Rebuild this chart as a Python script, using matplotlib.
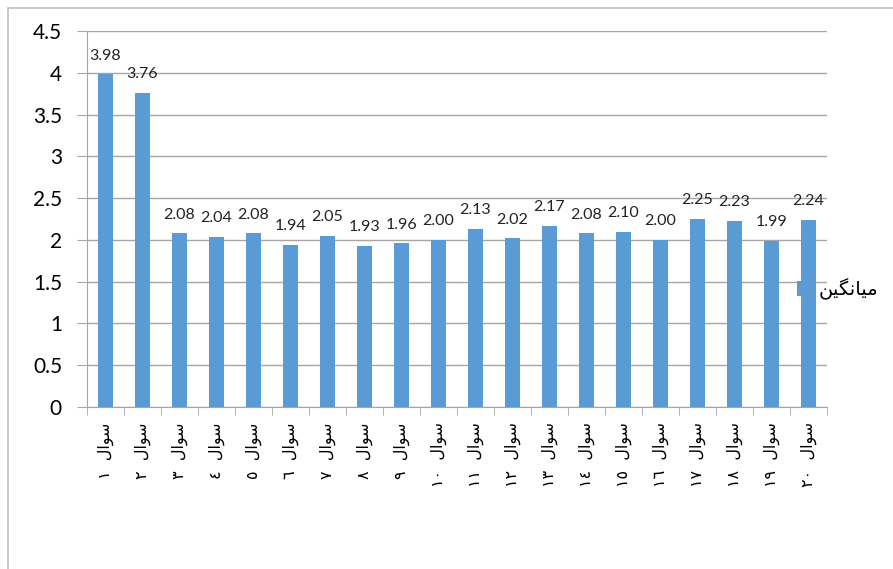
import numpy as np
import matplotlib
matplotlib.use('Agg')
import matplotlib.pyplot as plt
from matplotlib.patches import Rectangle

# values (mean score per question)
questions = list(range(1, 21))
means = [3.98, 3.76, 2.08, 2.04, 2.08, 1.94, 2.05, 1.93, 1.96, 2.00,
         2.13, 2.02, 2.17, 2.08, 2.10, 2.00, 2.25, 2.23, 1.99, 2.24]
y_ticks = [0, 0.5, 1, 1.5, 2, 2.5, 3, 3.5, 4, 4.5]
y_tick_labels = ['0', '0.5', '1', '1.5', '2', '2.5', '3', '3.5', '4', '4.5']

# matplotlib has no arabic shaping/bidi, so write glyphs in visual order
# "سوال" -> presentation forms, left to right
word_q = '\u0644\u0627\uFEEE\uFEB3'
# "میانگین" -> presentation forms, left to right
legend_label = '\uFEE6\uFBFF\uFB95\uFEE7\uFE8E\uFBFF\uFEE3'
ar_digits = '٠١٢٣٤٥٦٧٨٩'


def to_ar(n):
    return ''.join(ar_digits[int(c)] for c in str(n))


x_labels = [to_ar(q) + '  ' + word_q for q in questions]

bar_color = '#5B9BD5'
grid_color = '#A6A6A6'

W, H = 893, 569
fig = plt.figure(figsize=(W / 100, H / 100), dpi=100)
ax = fig.add_axes([87 / W, 1 - 407 / H, 740 / W, (407 - 31) / H])

x = np.arange(len(questions))
bars = ax.bar(x, means, width=0.4, color=bar_color, zorder=3, label=legend_label)

for xi, v in zip(x, means):
    ax.annotate('%.2f' % v, (xi, v), xytext=(0, 10.5), textcoords='offset points',
                ha='center', va='baseline', fontsize=11.5, family=['Lato', 'DejaVu Sans'],
                color='#222222')

ax.set_xlim(-0.5, len(questions) - 0.5)
ax.set_ylim(0, 4.5)
ax.set_yticks(y_ticks)
ax.set_yticklabels(y_tick_labels, fontsize=15, family=['Lato', 'DejaVu Sans'])
ax.yaxis.grid(True, color=grid_color, lw=1, zorder=0)
ax.tick_params(axis='y', length=7, color=grid_color, pad=11)

ax.set_xticks(x)
ax.set_xticklabels(x_labels, rotation=90, fontsize=11.5, family='DejaVu Sans')
ax.set_xticks(np.arange(-0.5, len(questions)), minor=True)
ax.tick_params(axis='x', which='major', length=0, pad=11)
ax.tick_params(axis='x', which='minor', length=6, color=grid_color)

for s in ['top', 'right']:
    ax.spines[s].set_visible(False)
ax.spines['left'].set_color(grid_color)
ax.spines['bottom'].set_color(grid_color)

leg = ax.legend(loc='center left', bbox_to_anchor=(797 / W, 1 - 289 / H),
                bbox_transform=fig.transFigure, frameon=False, borderpad=0,
                borderaxespad=0, handlelength=0.28, handleheight=0.8,
                handletextpad=0.85, prop={'family': 'DejaVu Sans', 'size': 14})

# chart area frame, running off the right and bottom edges
fig.add_artist(Rectangle((8 / W, -0.1), 1.0, (H - 8) / H + 0.1,
                         transform=fig.transFigure, fill=False,
                         ec='#BFBFBF', lw=1.2))

fig.savefig('out.png', dpi=100)
